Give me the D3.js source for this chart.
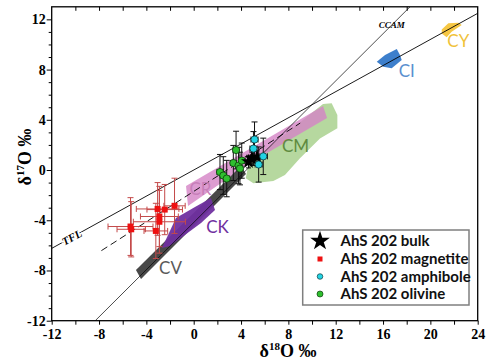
<!DOCTYPE html>
<html><head><meta charset="utf-8">
<script src="https://cdn.jsdelivr.net/npm/d3@7/dist/d3.min.js"></script>
<style>body{margin:0;background:#fff}svg{display:block}</style>
</head><body>
<svg id="chart" width="487" height="364"></svg>
<script>
// ---- data ----
const xTickLabels = [-12,-8,-4,0,4,8,12,16,20,24];
const yTickLabels = [-12,-8,-4,0,4,8,12];

// chondrite group fields (delta18O, delta17O vertices)
const fieldCM = [[11.66,5.31],[12.14,4.38],[12.14,3.32],[10.67,2.52],[8.98,0.93],[7.71,-0.4],[6.73,-0.88],[5.04,-1.06],[4.4,-0.66],[4.7,0.8],[6.03,1.6],[10.93,5.25]];
const fieldCR = [[-0.65,-1.28],[10.93,5.1],[11.27,4.14],[4.76,0.56],[-0.48,-2.87]];
const fieldCK = [[-2.68,-6.21],[-1.5,-3.82],[0.11,-2.95],[1.46,-2.23],[1.8,-3.19],[0.62,-4.22],[-2.0,-6.05]];
const fieldCV = [[-4.88,-7.97],[4.0,0.32],[4.42,-0.32],[-4.45,-8.68]];
const fieldCI = [[15.47,8.62],[16.17,9.16],[17.16,9.63],[17.43,9.16],[17.58,8.76],[16.73,8.1],[16.02,8.22]];
const fieldCY = [[20.96,11.2],[21.52,11.68],[22.36,11.73],[22.65,11.55],[21.8,11.01],[21.38,10.57],[20.96,10.88]];
const fieldNames = ["CM","CR","CV","CK","CI","CY"];

// samples: [d18O, d17O, xErr, yErr]
const magnetite = [[-5.34,-4.5,1.9,2.3],[-5.28,-4.72,1.2,2.2],[-3.05,-3.1,1.8,2.1],[-2.45,-3.15,1.5,2.0],[-1.62,-2.85,0.9,2.2],[-2.9,-3.7,1.6,2.4],[-2.9,-4.12,2.2,2.5],[-3.2,-4.85,1.0,2.2]];
const olivine = [[2.22,-0.16,0.25,1.4],[2.5,-0.44,0.25,1.5],[2.79,-0.68,0.25,1.45],[3.58,1.59,0.25,1.5],[3.35,0.56,0.25,1.4],[3.79,0.36,0.25,1.45],[4.06,0.75,0.25,1.4],[3.91,0.12,0.25,1.3]];
const amphibole = [[5.14,2.43,0.3,1.4],[5.05,1.71,0.3,1.35],[5.88,1.09,0.35,1.45],[5.49,0.44,0.3,1.4]];
const bulk = [[4.63,0.67,0.3,0.5],[5.35,1.03,0.3,0.5],[4.92,0.92,0.3,0.5]];

// reference lines: TFL slope 0.52, CCAM slope 0.94 intercept -4.18, dashed fit
const tflLine = [[-12,-6.24],[24,12.48]];
const ccamLine = [[-8.32,-12],[18.28,13]];
const fitLine = [[-7.8,-6.42],[9.0,3.74]];

const legendNames = ["AhS 202 bulk","AhS 202 magnetite","AhS 202 amphibole","AhS 202 olivine"];

// ---- drawing ----
const svg = d3.select("#chart");
const L=51.7, R=477.7, T=6.8, B=320.7;
const x = d3.scaleLinear().domain([-12,24]).range([L,R]);
const y = d3.scaleLinear().domain([-12,13]).range([B,T]);

const styles = {
  CM:{fill:"#a9d18e",op:0.85,label:"#5f8b3f",lx:8.6,ly:1.46},
  CR:{fill:"#d483c6",op:0.8,label:"#c77fb9",lx:0.57,ly:-2.0},
  CK:{fill:"#7030a0",op:0.95,label:"#7030a0",lx:2.01,ly:-5.04},
  CV:{fill:"#3f3f3f",op:0.95,label:"#5a5a5a",lx:-1.96,ly:-8.31},
  CI:{fill:"#3d7fcc",op:1,label:"#5b90cf",lx:18.0,ly:7.38},
  CY:{fill:"#f6c744",op:1,label:"#f0c23a",lx:22.36,ly:9.83}
};
const fields = {CM:fieldCM, CR:fieldCR, CK:fieldCK, CV:fieldCV, CI:fieldCI, CY:fieldCY};

const plot = svg.append("g");
plot.append("defs").append("clipPath").attr("id","clip")
  .append("rect").attr("x",L).attr("y",T).attr("width",R-L).attr("height",B-T);

const line = d3.line().x(d=>x(d[0])).y(d=>y(d[1]));

fieldNames.forEach(n=>{
  const s = styles[n];
  plot.append("path").attr("d", line(fields[n])+"Z").attr("fill", s.fill).attr("fill-opacity", s.op).attr("stroke","none");
});

// lines
const lines = plot.append("g").attr("clip-path","url(#clip)");
lines.append("path").attr("d",line(tflLine)).attr("stroke","#000").attr("stroke-width",0.9).attr("fill","none");
lines.append("path").attr("d",line(ccamLine)).attr("stroke","#000").attr("stroke-width",0.7).attr("fill","none");
lines.append("path").attr("d",line(fitLine)).attr("stroke","#000").attr("stroke-width",0.9).attr("stroke-dasharray","7,4").attr("fill","none");

// field labels
fieldNames.forEach(n=>{
  const s = styles[n];
  plot.append("text").attr("x",x(s.lx)).attr("y",y(s.ly)).attr("text-anchor","middle")
    .attr("font-family","Lato, 'Open Sans', sans-serif").attr("font-size",17)
    .attr("fill",s.label).text(n);
});

// line labels
plot.append("text").attr("x",391.7).attr("y",28).attr("text-anchor","middle")
  .attr("font-family","'Liberation Serif', serif").attr("font-style","italic").attr("font-weight","bold")
  .attr("font-size",9).text("CCAM");
{
  const tv = -10.3;
  const tx = x(tv), ty = y(tv*0.52);
  const ang = Math.atan2(y(0.52)-y(0), x(1)-x(0))*180/Math.PI;
  plot.append("text").attr("transform",`translate(${tx},${ty}) rotate(${ang})`).attr("text-anchor","middle")
    .attr("font-family","'Liberation Serif', serif").attr("font-style","italic").attr("font-weight","bold")
    .attr("font-size",11).attr("dy","0.35em").attr("fill","#000")
    .attr("stroke","#fff").attr("stroke-width",3).attr("paint-order","stroke").text("TFL");
}

// error bars
function errBars(data, color, cap){
  const g = plot.append("g").attr("stroke",color).attr("stroke-width",1).attr("fill","none");
  data.forEach(d=>{
    const cx=x(d[0]), cy=y(d[1]);
    const x1=x(d[0]-d[2]), x2=x(d[0]+d[2]), y1=y(d[1]+d[3]), y2=y(d[1]-d[3]);
    g.append("line").attr("x1",cx).attr("x2",cx).attr("y1",y1).attr("y2",y2);
    g.append("line").attr("x1",cx-cap).attr("x2",cx+cap).attr("y1",y1).attr("y2",y1);
    g.append("line").attr("x1",cx-cap).attr("x2",cx+cap).attr("y1",y2).attr("y2",y2);
    g.append("line").attr("x1",x1).attr("x2",x2).attr("y1",cy).attr("y2",cy);
    g.append("line").attr("x1",x1).attr("x2",x1).attr("y1",cy-cap).attr("y2",cy+cap);
    g.append("line").attr("x1",x2).attr("x2",x2).attr("y1",cy-cap).attr("y2",cy+cap);
  });
}
errBars(magnetite,"#c44a4a",3);
errBars(olivine,"#111",3);
errBars(amphibole,"#111",3);
errBars(bulk,"#111",2.5);

// markers
plot.append("g").selectAll("rect").data(magnetite).join("rect")
  .attr("x",d=>x(d[0])-3).attr("y",d=>y(d[1])-3).attr("width",6).attr("height",6).attr("fill","#ee1111");
plot.append("g").selectAll("circle").data(olivine).join("circle")
  .attr("cx",d=>x(d[0])).attr("cy",d=>y(d[1])).attr("r",3.6).attr("fill","#2fbf2f").attr("stroke","#0b3d0b").attr("stroke-width",0.8);
plot.append("g").selectAll("path").data(bulk).join("path")
  .attr("transform",d=>`translate(${x(d[0])},${y(d[1])})`)
  .attr("d",d3.symbol(d3.symbolStar,70)()).attr("fill","#000");
plot.append("g").selectAll("circle").data(amphibole).join("circle")
  .attr("cx",d=>x(d[0])).attr("cy",d=>y(d[1])).attr("r",3.6).attr("fill","#22d4e4").attr("stroke","#0d3b40").attr("stroke-width",0.8);

// frame and axes
const axisFont = "'Liberation Serif', 'Times New Roman', serif";
svg.append("rect").attr("x",L).attr("y",T).attr("width",R-L).attr("height",B-T)
  .attr("fill","none").attr("stroke","#000").attr("stroke-width",1.3);

const xAxis = svg.append("g").attr("transform",`translate(0,${B})`)
  .call(d3.axisBottom(x).tickValues(d3.range(-12,25,2)).tickSize(4).tickFormat(d=>xTickLabels.includes(d)?d:""));
const yAxis = svg.append("g").attr("transform",`translate(${L},0)`)
  .call(d3.axisLeft(y).tickValues(d3.range(-12,13,1)).tickSize(3).tickFormat(d=>yTickLabels.includes(d)?d:""));
yAxis.selectAll(".tick line").attr("x2",d=>yTickLabels.includes(d)?-5:-3);
const xTop = svg.append("g").attr("transform",`translate(0,${T})`)
  .call(d3.axisBottom(x).tickValues(d3.range(-10,24,2)).tickSize(4).tickFormat(""));
[xAxis,yAxis,xTop].forEach(a=>{
  a.select(".domain").remove();
  a.selectAll(".tick line").attr("stroke","#000").attr("stroke-width",1);
  a.selectAll("text").attr("font-family",axisFont).attr("font-weight","bold").attr("font-size",14).attr("fill","#000");
});
xAxis.selectAll("text").attr("y",8);
yAxis.selectAll("text").attr("x",-6);

// axis titles
const xt = svg.append("text").attr("x",288).attr("y",357).attr("text-anchor","middle")
  .attr("font-family",axisFont).attr("font-weight","bold").attr("font-size",18);
xt.append("tspan").text("δ");
xt.append("tspan").attr("font-size",11).attr("dy",-7).text("18");
xt.append("tspan").attr("dy",7).text("O ‰");

const yt = svg.append("text").attr("transform","translate(31,157) rotate(-90)").attr("text-anchor","middle")
  .attr("font-family",axisFont).attr("font-weight","bold").attr("font-size",18);
yt.append("tspan").text("δ");
yt.append("tspan").attr("font-size",11).attr("dy",-7).text("17");
yt.append("tspan").attr("dy",7).text("O ‰");

// legend
const lg = svg.append("g");
lg.append("rect").attr("x",302.7).attr("y",230).attr("width",166.3).attr("height",75)
  .attr("fill","#fff").attr("stroke","#7f7f7f").attr("stroke-width",1.5);
const rowY = [241,259,276.5,294];
legendNames.forEach((n,i)=>{
  lg.append("text").attr("x",340.5).attr("y",rowY[i]).attr("dy","0.36em")
    .attr("font-family","Lato, 'Open Sans', sans-serif").attr("font-weight","bold").attr("font-size",15).attr("fill","#111").text(n);
});
lg.append("path").attr("transform",`translate(320,${rowY[0]})`).attr("d",d3.symbol(d3.symbolStar,120)()).attr("fill","#000");
lg.append("rect").attr("x",317.5).attr("y",rowY[1]-2.5).attr("width",5).attr("height",5).attr("fill","#ee1111");
lg.append("circle").attr("cx",320).attr("cy",rowY[2]).attr("r",2.8).attr("fill","#22d4e4").attr("stroke","#0d3b40").attr("stroke-width",0.7);
lg.append("circle").attr("cx",320).attr("cy",rowY[3]).attr("r",3).attr("fill","#2fbf2f").attr("stroke","#0b3d0b").attr("stroke-width",0.7);
</script>
</body></html>
